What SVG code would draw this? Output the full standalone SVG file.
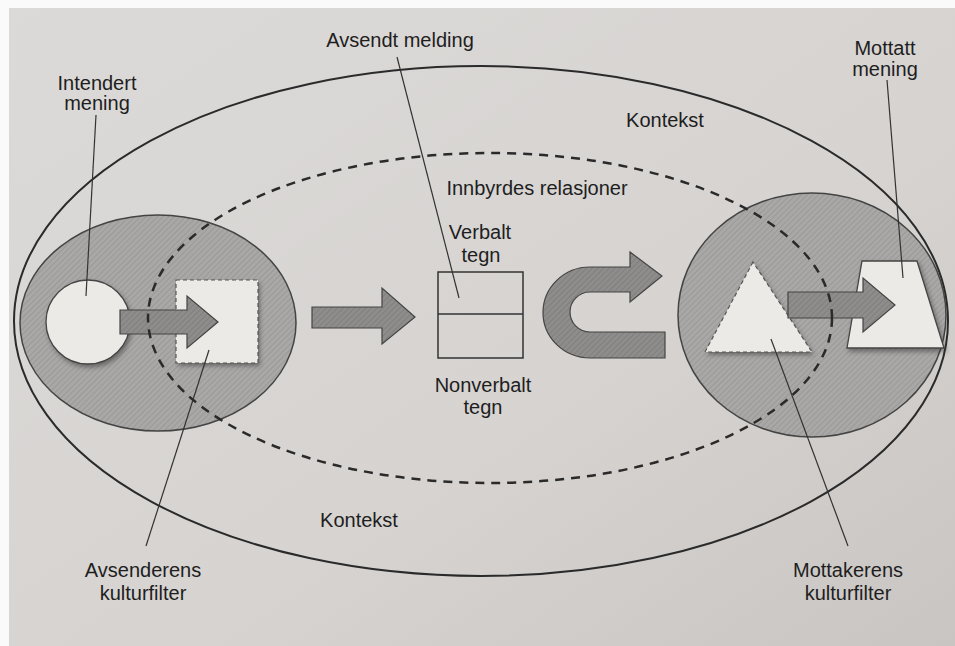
<svg xmlns="http://www.w3.org/2000/svg" width="955" height="646" viewBox="0 0 955 646">
<defs>
<linearGradient id="paper" x1="0" y1="0" x2="1" y2="1">
<stop offset="0" stop-color="#dcdad8"/>
<stop offset="0.6" stop-color="#d6d3d1"/>
<stop offset="1" stop-color="#c9c5c3"/>
</linearGradient>
<pattern id="hatch" width="4" height="4" patternUnits="userSpaceOnUse" patternTransform="rotate(45)">
<rect width="4" height="4" fill="#aaa8a6"/>
<line x1="0" y1="0" x2="0" y2="4" stroke="#969492" stroke-width="1.5"/>
</pattern>
<pattern id="hatchDark" width="4" height="4" patternUnits="userSpaceOnUse" patternTransform="rotate(45)">
<rect width="4" height="4" fill="#8f8d8b"/>
<line x1="0" y1="0" x2="0" y2="4" stroke="#7c7a78" stroke-width="1.5"/>
</pattern>
<filter id="shadow" x="-20%" y="-20%" width="150%" height="150%">
<feDropShadow dx="2" dy="3" stdDeviation="2" flood-color="#333" flood-opacity="0.5"/>
</filter>
</defs>
<style>
.lbl{font-family:"Liberation Sans",Arial,sans-serif;font-size:20px;fill:#1e1e1e;text-anchor:middle}
.lead{stroke:#333;stroke-width:1.2;fill:none}
.filt{fill:url(#hatch);stroke:#444;stroke-width:1.5}
.arrow{fill:url(#hatchDark);stroke:#444;stroke-width:1.2}
.light{fill:#eceae6;filter:url(#shadow)}
.dashb{stroke:#555;stroke-width:1.2;stroke-dasharray:4 3}
</style>
<rect x="0" y="0" width="955" height="646" fill="url(#paper)"/>
<rect x="0" y="0" width="955" height="8" fill="#fafafa"/>
<rect x="0" y="0" width="9" height="646" fill="#fafafa"/>

<g id="kontekst">
<ellipse cx="481" cy="321" rx="467" ry="255" fill="none" stroke="#2a2a2a" stroke-width="2"/>
</g>

<g id="avsender-filter">
<ellipse cx="158" cy="323" rx="138" ry="108" class="filt"/>
</g>
<g id="mottaker-filter">
<ellipse cx="812" cy="315" rx="134" ry="122" class="filt"/>
</g>

<g id="intendert-mening">
<circle cx="88" cy="322" r="42" class="light" stroke="#444" stroke-width="1.3"/>
</g>
<g id="avsender-square">
<rect x="176" y="280" width="82" height="83" class="light"/>
<rect x="176" y="280" width="82" height="83" fill="none" class="dashb"/>
</g>
<g id="melding-box">
<rect x="438" y="272" width="85" height="86" fill="none" stroke="#333" stroke-width="1.5"/>
<line x1="438" y1="314" x2="523" y2="314" stroke="#333" stroke-width="1.5"/>
</g>
<g id="mottaker-triangle">
<polygon points="753,262 705,352 812,352" class="light"/>
<polygon points="753,262 705,352 812,352" fill="none" class="dashb"/>
</g>
<g id="mottatt-mening">
<polygon points="862,261 917,261 944,348 847,348" class="light" stroke="#444" stroke-width="1.3"/>
</g>

<g id="connectors">
<path class="arrow" d="M120 310 L187 310 L187 296 L218 322 L187 348 L187 334 L120 334 Z"/>
<path class="arrow" d="M312 307 L382 307 L382 288 L415 317 L382 344 L382 328 L312 328 Z"/>
<path class="arrow" d="M630 267 L590 267 A47 45.5 0 0 0 590 358 L665 358 L665 332 L590 332 A20 20 0 0 1 590 292 L630 292 L630 302 L662 276 L630 252 Z"/>
<path class="arrow" d="M788 292 L863 292 L863 278 L895 305 L863 332 L863 318 L788 318 Z"/>
<line class="lead" x1="96" y1="115" x2="86" y2="296"/>
<line class="lead" x1="397" y1="57" x2="459" y2="298"/>
<line class="lead" x1="887" y1="80" x2="903" y2="278"/>
<line class="lead" x1="146" y1="546" x2="209" y2="350"/>
<line class="lead" x1="848" y1="546" x2="771" y2="339"/>
</g>

<g id="relasjoner">
<ellipse cx="490" cy="318" rx="342" ry="165" fill="none" stroke="#2a2a2a" stroke-width="2.5" stroke-dasharray="9 7"/>
</g>

<g id="labels">
<text class="lbl" x="97" y="90">Intendert</text>
<text class="lbl" x="97" y="110">mening</text>
<text class="lbl" x="400" y="47">Avsendt melding</text>
<text class="lbl" x="665" y="127">Kontekst</text>
<text class="lbl" x="537" y="195">Innbyrdes relasjoner</text>
<text class="lbl" x="480" y="239">Verbalt</text>
<text class="lbl" x="481" y="262">tegn</text>
<text class="lbl" x="483" y="392">Nonverbalt</text>
<text class="lbl" x="483" y="414">tegn</text>
<text class="lbl" x="885" y="55">Mottatt</text>
<text class="lbl" x="885" y="76">mening</text>
<text class="lbl" x="359" y="527">Kontekst</text>
<text class="lbl" x="143" y="577">Avsenderens</text>
<text class="lbl" x="143" y="600">kulturfilter</text>
<text class="lbl" x="848" y="577">Mottakerens</text>
<text class="lbl" x="848" y="600">kulturfilter</text>
</g>
</svg>
